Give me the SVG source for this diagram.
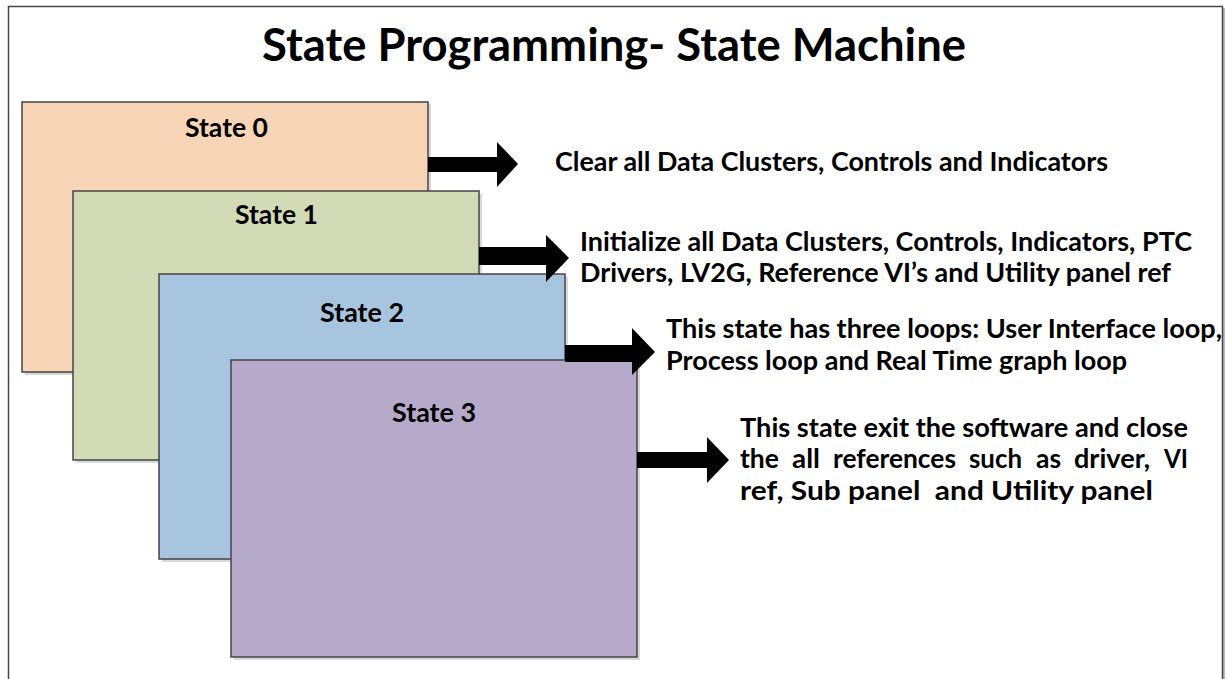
<svg xmlns="http://www.w3.org/2000/svg" width="1227" height="679" viewBox="0 0 1227 679">
<style>
.t{font-family:Lato,"Open Sans","Liberation Sans",Arial,sans-serif;font-weight:bold;fill:#000}
.lbl{font-size:27px}
.desc{font-size:27px}
.box{stroke:#444;stroke-width:1.5}
.sh{fill:#d9d9d9}
.arr{fill:#000}
</style>
<rect x="0" y="0" width="1227" height="679" fill="#fff"/>
<g id="frame">
<rect x="1222" y="8" width="3" height="671" fill="#bbb"/>
<path d="M8.5 690 V6.5 H1222.5 V690" fill="none" stroke="#444" stroke-width="1.5"/>
</g>
<text class="t" x="262" y="61" font-size="45" textLength="704" lengthAdjust="spacingAndGlyphs">State Programming- State Machine</text>
<g id="state0">
<rect class="sh" x="25" y="104" width="406" height="271"/>
<rect class="box" x="22" y="102" width="406" height="270" fill="#F8D5B7"/>
<text class="t lbl" x="185" y="137" textLength="83" lengthAdjust="spacingAndGlyphs">State 0</text>
</g>
<g id="state1">
<rect class="sh" x="76" y="194" width="406" height="269"/>
<rect class="box" x="73" y="191" width="406" height="269" fill="#D3DBB6"/>
<text class="t lbl" x="235" y="224" textLength="83" lengthAdjust="spacingAndGlyphs">State 1</text>
</g>
<g id="state2">
<rect class="sh" x="162" y="277" width="406" height="285"/>
<rect class="box" x="159" y="274" width="406" height="285" fill="#A7C5DE"/>
<text class="t lbl" x="320" y="322" textLength="84" lengthAdjust="spacingAndGlyphs">State 2</text>
</g>
<g id="state3">
<rect class="sh" x="234" y="363" width="406" height="297"/>
<rect class="box" x="231" y="360" width="406" height="297" fill="#B6AACB"/>
<text class="t lbl" x="392" y="422" textLength="84" lengthAdjust="spacingAndGlyphs">State 3</text>
</g>
<g id="connectors">
<polygon class="arr" points="428,157 497,157 497,142 518,164 497,187 497,172 428,172"/>
<polygon class="arr" points="479,247 546,247 546,235 569,258 546,282 546,265 479,265"/>
<polygon class="arr" points="565,345 632,345 632,328 655,352 632,375 632,362 565,362"/>
<polygon class="arr" points="637,452 707,452 707,437 729,460 707,483 707,468 637,468"/>
</g>
<g id="desc0">
<text class="t desc" x="555" y="171" textLength="553" lengthAdjust="spacingAndGlyphs">Clear all Data Clusters, Controls and Indicators</text>
</g>
<g id="desc1">
<text class="t desc" x="580" y="251" textLength="612" lengthAdjust="spacingAndGlyphs">Initialize all Data Clusters, Controls, Indicators, PTC</text>
<text class="t desc" x="580" y="282" textLength="591" lengthAdjust="spacingAndGlyphs">Drivers, LV2G, Reference VI’s and Utility panel ref</text>
</g>
<g id="desc2">
<text class="t desc" x="666" y="338" textLength="556" lengthAdjust="spacingAndGlyphs">This state has three loops: User Interface loop,</text>
<text class="t desc" x="666" y="370" textLength="461" lengthAdjust="spacingAndGlyphs">Process loop and Real Time graph loop</text>
</g>
<g id="desc3">
<text class="t desc" x="740" y="437" textLength="448" lengthAdjust="spacingAndGlyphs">This state exit the software and close</text>
<text class="t desc" x="740" y="468" textLength="39" lengthAdjust="spacingAndGlyphs">the</text>
<text class="t desc" x="792" y="468" textLength="28" lengthAdjust="spacingAndGlyphs">all</text>
<text class="t desc" x="833" y="468" textLength="123" lengthAdjust="spacingAndGlyphs">references</text>
<text class="t desc" x="969" y="468" textLength="53" lengthAdjust="spacingAndGlyphs">such</text>
<text class="t desc" x="1036" y="468" textLength="25" lengthAdjust="spacingAndGlyphs">as</text>
<text class="t desc" x="1074" y="468" textLength="76" lengthAdjust="spacingAndGlyphs">driver,</text>
<text class="t desc" x="1164" y="468" textLength="24" lengthAdjust="spacingAndGlyphs">VI</text>
<text class="t desc" x="740" y="500" textLength="413" lengthAdjust="spacingAndGlyphs" xml:space="preserve" style="white-space:pre">ref, Sub panel  and Utility panel</text>
</g>
</svg>
